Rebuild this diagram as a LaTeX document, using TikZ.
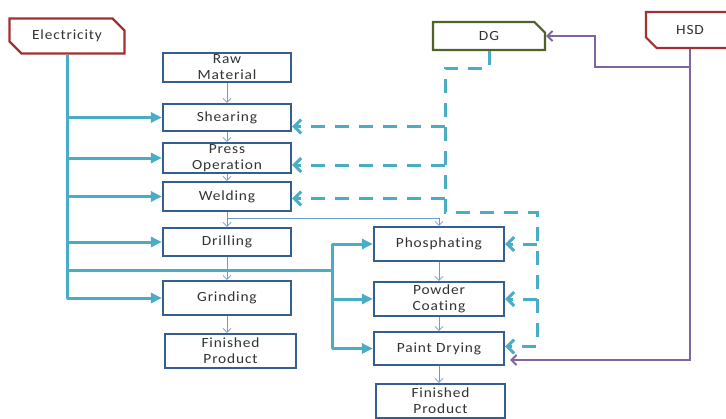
\documentclass[tikz,border=0pt]{standalone}
\usepackage{fontspec}
\setmainfont{Carlito}[FakeStretch=1.1,LetterSpace=6,Ligatures={NoCommon}]
\usetikzlibrary{arrows.meta,shapes.misc}

\definecolor{boxblue}{RGB}{54,95,145}
\definecolor{elecred}{RGB}{160,50,50}
\definecolor{dggreen}{RGB}{79,98,40}
\definecolor{powercyan}{RGB}{75,172,198}
\definecolor{fuelpurple}{RGB}{128,100,162}
\definecolor{flowblue}{RGB}{110,155,210}

\tikzset{
  stepbox/.style={draw=boxblue, line width=2.2pt, fill=white, minimum width=128pt,
    minimum height=29pt, inner sep=0pt, align=center, text=black!80,
    font=\fontsize{14}{16}\selectfont},
  srcbox/.style={chamfered rectangle, chamfered rectangle xsep=6pt, chamfered rectangle ysep=6pt,
    line width=2.2pt, fill=white, inner sep=0pt, text=black!80, font=\fontsize{14}{16}\selectfont},
  flow/.style={draw=flowblue, line width=0.8pt, -{Straight Barb[length=4pt,width=8pt]}},
  power/.style={draw=powercyan, line width=3pt, line join=round, -{Triangle[length=11pt,width=10pt]}},
  backup/.style={draw=powercyan, line width=3pt, dash pattern=on 14pt off 10pt,
    -{Straight Barb[length=7pt,width=14pt]}},
  fuel/.style={draw=fuelpurple, line width=2pt, -{Straight Barb[length=5pt,width=10pt]}}
}

\begin{document}
\begin{tikzpicture}[x=1pt,y=-1pt]
\useasboundingbox (0,0) rectangle (726,418);

% energy sources
\node[srcbox, draw=elecred, chamfered rectangle corners={north east,south west},
  minimum width=115pt, minimum height=35pt] (elec) at (67,36) {Electricity};
\node[srcbox, draw=dggreen, chamfered rectangle corners=north east,
  minimum width=112pt, minimum height=28pt] (dg) at (489,36) {DG};
\node[srcbox, draw=elecred, chamfered rectangle corners=south west,
  minimum width=88pt, minimum height=36pt] (hsd) at (690,30) {HSD};

% process steps
\node[stepbox] (raw) at (227,67.5) {Raw\\Material};
\node[stepbox, minimum height=27pt] (shear) at (227,117.5) {Shearing};
\node[stepbox, minimum height=30pt] (press) at (227,158) {Press\\Operation};
\node[stepbox] (weld) at (227,196.5) {Welding};
\node[stepbox, minimum height=28pt] (drill) at (227,242) {Drilling};
\node[stepbox, minimum height=34pt] (grind) at (227,298) {Grinding};
\node[stepbox, minimum width=131pt, minimum height=34pt] (fin1) at (230.5,351) {Finished\\Product};
\node[stepbox, minimum width=130pt, minimum height=34pt] (phos) at (439,244) {Phosphating};
\node[stepbox, minimum width=130pt, minimum height=34pt] (powder) at (439,299) {Powder\\Coating};
\node[stepbox, minimum width=130pt, minimum height=33pt] (paint) at (439,348.5) {Paint Drying};
\node[stepbox, minimum width=129pt, minimum height=34pt] (fin2) at (440.5,401) {Finished\\Product};

% material flow
\foreach \a/\b in {raw/shear,shear/press,press/weld,weld/drill,drill/grind,phos/powder,powder/paint}
  \draw[flow] (\a) -- (\b);
\draw[flow] (grind.south) -- (grind.south |- fin1.north);
\draw[flow] (paint.south) -- (paint.south |- fin2.north);
\draw[flow] (weld.south) -- ++(0,6) -| (phos.north);

% electricity
\coordinate (split) at (332,270);
\draw[power] (elec.south) |- (grind.west);
\foreach \n in {shear,press,weld,drill}
  \draw[power] (elec.south |- \n) -- (\n.west);
\draw[power] (elec.south |- split) -| (split |- phos) -- (phos.west);
\draw[power] (split) |- (paint.west);
\draw[power] (split |- powder) -- (powder.west);

% diesel generator
\coordinate (dgA) at (445,68);
\coordinate (dgB) at (445,212);
\coordinate (dgC) at (537,212);
\draw[backup] (dg.south) |- (dgA) -- (dgB) -- (dgC) |- ([yshift=2pt]paint.east);
\foreach \n/\s in {shear/-9pt,press/-7pt,weld/-2pt}{
  \path ([yshift=\s]\n.east) coordinate (tip);
  \draw[backup] (dgA |- tip) -- (tip);
}
\draw[backup] (dgC |- phos) -- (phos.east);
\draw[backup] (dgC |- powder) -- (powder.east);

% HSD
\coordinate (hsdB) at (595,67);
\draw[fuel] (hsd.south) |- ([xshift=5pt,yshift=-11.5pt]paint.east);
\draw[fuel] (hsd.south |- hsdB) -- (hsdB) |- (dg.east);
\end{tikzpicture}
\end{document}
